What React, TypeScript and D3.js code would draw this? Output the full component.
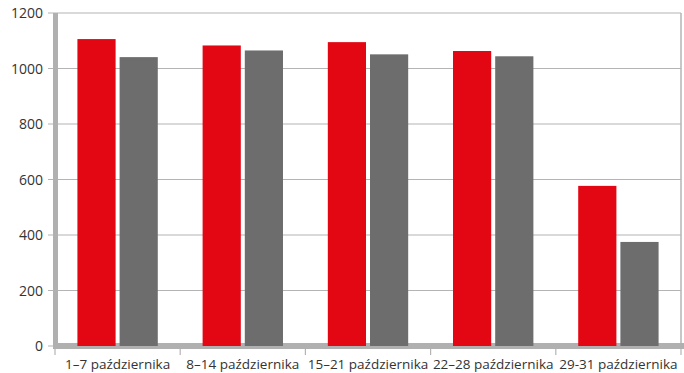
import React from "react";
import * as d3 from "d3";

const categories = ["1–7 października", "8–14 października", "15–21 października", "22–28 października", "29-31 października"];
const seriesRed = [1106, 1083, 1095, 1063, 577];
const seriesGray = [1041, 1065, 1051, 1044, 375];
const yTicks = [0, 200, 400, 600, 800, 1000, 1200];

export default function App() {
  const W = 684, H = 373;
  const x0 = 55, x1 = 681;
  const yTop = 13, yBot = 346;
  const y = d3.scaleLinear().domain([0, 1200]).range([yBot, yTop]);
  const x = d3.scaleBand().domain(categories).range([x0, x1]).paddingInner(0).paddingOuter(0);
  const bw = x.bandwidth();
  const barW = bw * 0.305;
  const gap = 4;
  const offset = (bw - 2 * barW - gap) / 2;
  const font = "'Open Sans', 'DejaVu Sans', sans-serif";
  return (
    <svg width={W} height={H} style={{ position: "absolute", left: 0, top: 0 }} fontFamily={font}>
      <rect width={W} height={H} fill="#fff" />
      {yTicks.map((t) => (
        <g key={t}>
          <line x1={48} x2={x1} y1={y(t)} y2={y(t)} stroke="#b4b4b4" strokeWidth={1.2} />
          <text x={43} y={y(t) + 5} textAnchor="end" fontSize={14} fill="#333">{t}</text>
        </g>
      ))}
      <line x1={x1} x2={x1} y1={yTop} y2={yBot + 3} stroke="#b4b4b4" strokeWidth={1.5} />
      <rect x={53} y={yTop} width={5} height={yBot - yTop + 3} fill="#b0b0b0" />
      <rect x={55} y={yBot - 3} width={W - 55} height={6} fill="#b0b0b0" />
      {categories.map((c, i) => {
        const bx = x(c)!;
        return (
          <g key={c}>
            <rect x={bx + offset} y={y(seriesRed[i])} width={barW} height={yBot - y(seriesRed[i])} fill="#e30613" />
            <rect x={bx + offset + barW + gap} y={y(seriesGray[i])} width={barW} height={yBot - y(seriesGray[i])} fill="#6d6d6d" />
            <text x={bx + bw / 2} y={369} textAnchor="middle" fontSize={13.5} fill="#333">{c}</text>
          </g>
        );
      })}
      {[...categories.map((c) => x(c)!), x1].map((t, i) => (
        <line key={i} x1={t} x2={t} y1={yBot + 3} y2={yBot + 9} stroke="#b4b4b4" strokeWidth={1.2} />
      ))}
    </svg>
  );
}
